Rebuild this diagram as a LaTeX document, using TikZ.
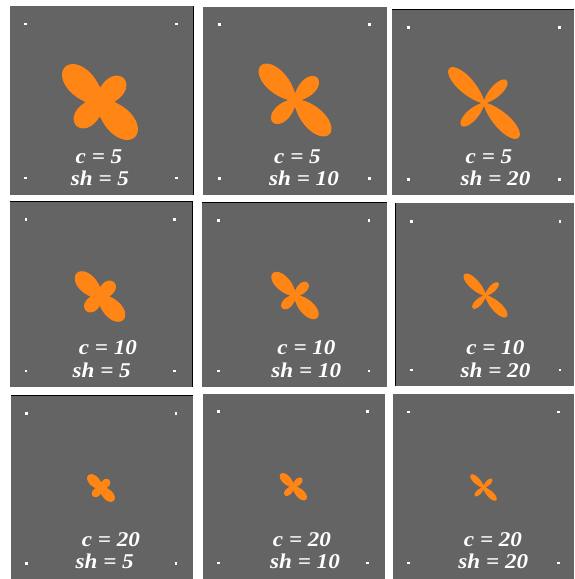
\documentclass[tikz,border=0pt]{standalone}
\usepackage{graphicx}
\usepackage{fontspec}
\setmainfont{Liberation Serif}
\definecolor{panelgray}{RGB}{100,100,100}
\definecolor{glyph}{RGB}{255,133,20}
\tikzset{
  panel/.style={fill=panelgray},
  edgeline/.style={draw=black,line width=1.1pt},
  dotmark/.style={fill=white},
  glyphfill/.style={fill=glyph,draw=glyph,line width=0.9pt,line join=round},
  lbl/.style={text=white,font=\fontsize{21}{21}\selectfont\bfseries\itshape,anchor=base,inner sep=0pt},
  declare function={lr(\t,\a,\b,\d,\k)=(\a*cos(\t-45)*cos(\t-45)+\b*sin(\t-45)*sin(\t-45))*(\d+(1-\d)*pow(abs(sin(2*\t))+0.00001,\k));}
}
\newcommand\lab[1]{\scalebox{1.1}[1]{#1}}
\newcommand\glyphshape[6]{%
  \begin{scope}[shift={(#1,#2)}]
    \path[glyphfill] plot[domain=0:360,samples=361,variable=\t] (\t:{lr(\t,#3,#4,#5,#6)}) -- cycle;
  \end{scope}}
\newcommand\cornerdots[4]{%
  \foreach \px in {#1,#2}{\foreach \py in {#3,#4}{\fill[dotmark] (\px-1.3,\py-1.3) rectangle (\px+1.3,\py+1.3);}}}
\begin{document}
\begin{tikzpicture}[x=1pt,y=-1pt]
\useasboundingbox (0,0) rectangle (574,579);
\fill[white] (0,0) rectangle (574,579);
% panels
\fill[panel] (10,6) rectangle (194,194.7);
\fill[panel] (203,7) rectangle (387,195);
\fill[panel] (392,9) rectangle (574,195);
\fill[panel] (10,201) rectangle (193,387);
\fill[panel] (202,202) rectangle (387,387);
\fill[panel] (395,203) rectangle (574,386);
\fill[panel] (11,395) rectangle (193,579);
\fill[panel] (203,394) rectangle (385,579);
\fill[panel] (393,394) rectangle (574,579);
% dark edges
\draw[edgeline] (193.6,6) -- (193.6,194.7);
\draw[edgeline] (392,9.5) -- (574,9.5);
\draw[edgeline] (10,201.5) -- (193,201.5);
\draw[edgeline] (192.5,201) -- (192.5,387);
\draw[edgeline] (202,202.5) -- (387,202.5);
\draw[edgeline] (395.5,203) -- (395.5,386);
\draw[edgeline] (11,395.5) -- (193,395.5);
% dots
\cornerdots{25.7}{176.7}{24}{178}
\cornerdots{219.3}{369.3}{24.7}{178.3}
\cornerdots{408.5}{559.3}{27.3}{179.5}
\cornerdots{26}{174.3}{219.3}{371}
\cornerdots{218.3}{369}{220.7}{371}
\cornerdots{411.7}{560}{221.7}{370}
\cornerdots{26.5}{176}{413.3}{563.3}
\cornerdots{218.3}{367.3}{411.7}{563}
\cornerdots{408.3}{558.5}{412}{563}
% glyphs: cx cy long short d k
\glyphshape{100}{102}{49}{33}{0.34}{1.5}
\glyphshape{295}{100}{48}{31}{0.14}{1.8}
\glyphshape{484}{103}{48.5}{31.5}{0.04}{3.5}
\glyphshape{100}{296.5}{32.5}{19.5}{0.34}{1.5}
\glyphshape{295}{295.5}{31}{17.5}{0.14}{1.8}
\glyphshape{485.5}{295.5}{29.5}{17.5}{0.04}{3.5}
\glyphshape{101}{488}{17.5}{11}{0.34}{1.5}
\glyphshape{293.3}{486.7}{17.5}{11.5}{0.14}{1.8}
\glyphshape{483.5}{487.5}{17.5}{11.5}{0.04}{3.5}
% labels
\node[lbl] (c1) at (99,163) {\lab{c = 5}};
\node[lbl] (s1) at (100,185) {\lab{sh = 5}};
\node[lbl] (c2) at (297.5,163) {\lab{c = 5}};
\node[lbl] (s2) at (304,185) {\lab{sh = 10}};
\node[lbl] (c3) at (489,163) {\lab{c = 5}};
\node[lbl] (s3) at (495.5,185) {\lab{sh = 20}};
\node[lbl] (c4) at (108,354) {\lab{c = 10}};
\node[lbl] (s4) at (101.7,377.7) {\lab{sh = 5}};
\node[lbl] (c5) at (306.5,354) {\lab{c = 10}};
\node[lbl] (s5) at (306.3,377.7) {\lab{sh = 10}};
\node[lbl] (c6) at (495.3,354) {\lab{c = 10}};
\node[lbl] (s6) at (495.5,377.7) {\lab{sh = 20}};
\node[lbl] (c7) at (111,546) {\lab{c = 20}};
\node[lbl] (s7) at (104.7,568) {\lab{sh = 5}};
\node[lbl] (c8) at (302,546) {\lab{c = 20}};
\node[lbl] (s8) at (305,568) {\lab{sh = 10}};
\node[lbl] (c9) at (493,546) {\lab{c = 20}};
\node[lbl] (s9) at (493.3,568) {\lab{sh = 20}};
\end{tikzpicture}
\end{document}
